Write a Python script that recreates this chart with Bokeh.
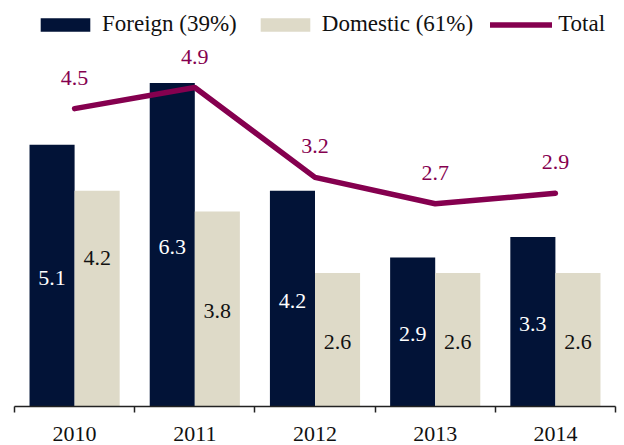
from bokeh.plotting import figure
from bokeh.models import (ColumnDataSource, Range1d, FixedTicker, CustomJSTickFormatter,
                          Legend, LegendItem, LinearAxis)
from bokeh.core.properties import value
from bokeh.embed import file_html
from bokeh.resources import INLINE

# ---- data ----
years = ["2010", "2011", "2012", "2013", "2014"]
foreign = [5.1, 6.3, 4.2, 2.9, 3.3]
domestic = [4.2, 3.8, 2.6, 2.6, 2.6]
total = [4.5, 4.9, 3.2, 2.7, 2.9]
legend_labels = ["Foreign (39%)", "Domestic (61%)", "Total"]

# ---- style ----
FONT = "Liberation Serif"
NAVY = "#021337"
BEIGE = "#DEDAC8"
MAROON = "#85004F"
TEXT = "#111111"
dom_label_dy = [-41, 2, 2, 2, 2]
for_label_dy = [2, 2, 2, 2, 2]

n = len(years)
centers = [i + 0.5 for i in range(n)]
bw = 0.375

src = ColumnDataSource(dict(
    xf=[c - bw / 2 for c in centers],
    xd=[c + bw / 2 for c in centers],
    xc=centers,
    foreign=foreign, domestic=domestic, total=total,
    fmid=[v / 2 for v in foreign],
    dmid=[v / 2 for v in domestic],
    flab=[f"{v:.1f}" for v in foreign],
    dlab=[f"{v:.1f}" for v in domestic],
    tlab=[f"{v:.1f}" for v in total],
    fdy=for_label_dy, ddy=dom_label_dy,
))

p = figure(width=624, height=445, x_range=Range1d(0, n), y_range=Range1d(0, 7.907),
           output_backend="svg", toolbar_location=None,
           x_axis_location=None, y_axis_location=None,
           min_border_left=14, min_border_right=9, min_border_top=0, min_border_bottom=39)
p.extra_y_ranges = {"tot": Range1d(-1.135, 6.546)}
p.grid.visible = False
p.outline_line_color = None
p.background_fill_color = "white"

rf = p.vbar(x="xf", top="foreign", width=bw, source=src, fill_color=NAVY, line_color=None)
rd = p.vbar(x="xd", top="domestic", width=bw, source=src, fill_color=BEIGE, line_color=None)
rt = p.line(x="xc", y="total", source=src, y_range_name="tot", line_color=MAROON,
            line_width=5.5, line_cap="round", line_join="round")

p.text(x="xf", y="fmid", text="flab", source=src, y_offset="fdy",
       text_font=value(FONT), text_font_size="22px", text_color="white",
       text_align="center", text_baseline="middle")
p.text(x="xd", y="dmid", text="dlab", source=src, y_offset="ddy",
       text_font=value(FONT), text_font_size="22px", text_color=TEXT,
       text_align="center", text_baseline="middle")
p.text(x="xc", y="total", text="tlab", source=src, y_range_name="tot", y_offset=-31,
       text_font=value(FONT), text_font_size="22px", text_color=MAROON,
       text_align="center", text_baseline="middle")

ax = LinearAxis(ticker=FixedTicker(ticks=centers, minor_ticks=list(range(n + 1))),
                formatter=CustomJSTickFormatter(args=dict(labels=years),
                                                code="return labels[Math.round(tick - 0.5)];"))
ax.axis_line_color = "#222222"
ax.axis_line_width = 1.5
ax.major_tick_in = 0
ax.major_tick_out = 0
ax.minor_tick_in = 0
ax.minor_tick_out = 6
ax.minor_tick_line_color = "#222222"
ax.minor_tick_line_width = 1.5
ax.major_label_standoff = 14
ax.major_label_text_font = FONT
ax.major_label_text_font_size = "22px"
ax.major_label_text_color = TEXT
p.add_layout(ax, "below")

legend = Legend(items=[LegendItem(label=legend_labels[0], renderers=[rf]),
                       LegendItem(label=legend_labels[1], renderers=[rd]),
                       LegendItem(label=legend_labels[2], renderers=[rt])],
                orientation="horizontal", location=(20, 369),
                glyph_width=62, glyph_height=17, label_standoff=6, spacing=17,
                padding=0, margin=0, border_line_color=None, background_fill_alpha=0,
                label_text_font=FONT, label_text_font_size="23px", label_text_color=TEXT)
p.add_layout(legend, "center")

open("out.html", "w").write(file_html(p, INLINE))
